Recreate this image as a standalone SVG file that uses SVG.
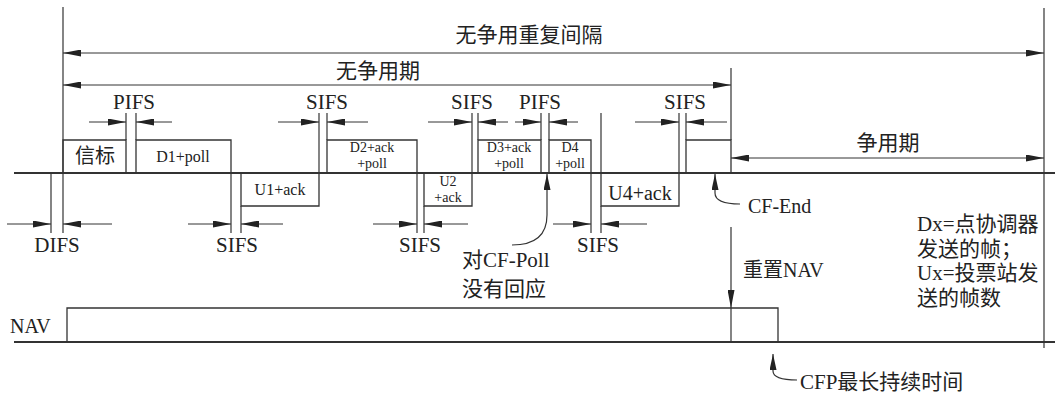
<svg xmlns="http://www.w3.org/2000/svg" width="1055" height="397" viewBox="0 0 1055 397">
<defs>
<style>
.ln{stroke:#333;stroke-width:1.2;fill:none}
.base{stroke:#333;stroke-width:2;fill:none}
.box{stroke:#333;stroke-width:1.3;fill:none}
.dim{stroke:#333;stroke-width:1;fill:none}
.t{font-family:"Liberation Serif","Noto Sans CJK SC",serif;fill:#222}
.c{text-anchor:middle}
.s14{font-size:14px}
.s16{font-size:16px}
.s20{font-size:20px}
.s21{font-size:21px}
</style>
<marker id="ah" viewBox="0 0 18 7" refX="18" refY="3.5" markerWidth="18" markerHeight="7" markerUnits="userSpaceOnUse" orient="auto-start-reverse"><path d="M0,0 L18,3.5 L0,7 z" fill="#222"/></marker>
<marker id="ah2" viewBox="0 0 16 7" refX="16" refY="3.5" markerWidth="16" markerHeight="7" markerUnits="userSpaceOnUse" orient="auto"><path d="M0,0 L16,3.5 L0,7 z" fill="#222"/></marker>
</defs>
<rect width="1055" height="397" fill="#fff"/>

<g id="timelines">
<line class="base" x1="14" y1="173" x2="1055" y2="173"/>
<line class="base" x1="14" y1="342" x2="1055" y2="342"/>
<path class="box" d="M67,342 V308 H778 V342"/>
</g>

<g id="frames">
<g id="beacon"><path class="box" d="M63,173 V140 H126 V173"/><text class="t c s20" x="95" y="163">信标</text></g>
<g id="d1"><path class="box" d="M136,173 V140 H231 V173"/><text class="t c s16" x="183" y="162">D1+poll</text></g>
<g id="u1"><path class="box" d="M241,173 V206 H319 V173"/><text class="t c s16" x="280" y="195">U1+ack</text></g>
<g id="d2"><path class="box" d="M327,173 V140 H417 V173"/><text class="t c s14" x="372" y="152">D2+ack</text><text class="t c s14" x="372" y="168">+poll</text></g>
<g id="u2"><path class="box" d="M424,173 V206 H472 V173"/><text class="t c s14" x="448" y="186">U2</text><text class="t c s14" x="448" y="202">+ack</text></g>
<g id="d3"><path class="box" d="M478,173 V140 H541 V173"/><text class="t c s14" x="509" y="152">D3+ack</text><text class="t c s14" x="509" y="168">+poll</text></g>
<g id="d4"><path class="box" d="M549,173 V140 H591 V173"/><text class="t c s14" x="570" y="152">D4</text><text class="t c s14" x="570" y="168">+poll</text></g>
<g id="u4"><path class="box" d="M601,173 V206 H679 V173"/><text class="t c s20" x="640" y="200">U4+ack</text></g>
<g id="cfend"><path class="box" d="M686,173 V140 H731 V173"/></g>
</g>

<g id="connectors">
<line class="ln" x1="63" y1="7" x2="63" y2="233"/>
<line class="ln" x1="51" y1="173" x2="51" y2="233"/>
<line class="ln" x1="126" y1="113" x2="126" y2="140"/>
<line class="ln" x1="136" y1="113" x2="136" y2="140"/>
<line class="ln" x1="319" y1="113" x2="319" y2="173"/>
<line class="ln" x1="327" y1="113" x2="327" y2="140"/>
<line class="ln" x1="231" y1="173" x2="231" y2="233"/>
<line class="ln" x1="241" y1="206" x2="241" y2="233"/>
<line class="ln" x1="472" y1="113" x2="472" y2="173"/>
<line class="ln" x1="478" y1="113" x2="478" y2="140"/>
<line class="ln" x1="417" y1="173" x2="417" y2="233"/>
<line class="ln" x1="424" y1="206" x2="424" y2="233"/>
<line class="ln" x1="541" y1="113" x2="541" y2="140"/>
<line class="ln" x1="549" y1="113" x2="549" y2="140"/>
<line class="ln" x1="591" y1="173" x2="591" y2="233"/>
<line class="ln" x1="601" y1="113" x2="601" y2="173"/>
<line class="ln" x1="601" y1="206" x2="601" y2="233"/>
<line class="ln" x1="679" y1="113" x2="679" y2="173"/>
<line class="ln" x1="686" y1="113" x2="686" y2="140"/>
<line class="ln" x1="731" y1="68" x2="731" y2="140"/>
<line class="ln" x1="1044" y1="8" x2="1044" y2="348"/>

<line class="dim" x1="63" y1="53" x2="1044" y2="53" marker-start="url(#ah)" marker-end="url(#ah)"/>
<line class="dim" x1="63" y1="85" x2="731" y2="85" marker-start="url(#ah)" marker-end="url(#ah)"/>
<line class="dim" x1="731" y1="158" x2="1044" y2="158" marker-start="url(#ah)" marker-end="url(#ah)"/>

<line class="dim" x1="89" y1="122" x2="126" y2="122" marker-end="url(#ah)"/>
<line class="dim" x1="172" y1="122" x2="136" y2="122" marker-end="url(#ah)"/>
<line class="dim" x1="278" y1="122" x2="319" y2="122" marker-end="url(#ah)"/>
<line class="dim" x1="368" y1="122" x2="327" y2="122" marker-end="url(#ah)"/>
<line class="dim" x1="428" y1="122" x2="472" y2="122" marker-end="url(#ah)"/>
<line class="dim" x1="508" y1="122" x2="478" y2="122" marker-end="url(#ah)"/>
<line class="dim" x1="515" y1="122" x2="541" y2="122" marker-end="url(#ah)"/>
<line class="dim" x1="578" y1="122" x2="549" y2="122" marker-end="url(#ah)"/>
<line class="dim" x1="635" y1="122" x2="679" y2="122" marker-end="url(#ah)"/>
<line class="dim" x1="727" y1="122" x2="686" y2="122" marker-end="url(#ah)"/>

<line class="dim" x1="7" y1="224" x2="51" y2="224" marker-end="url(#ah)"/>
<line class="dim" x1="112" y1="224" x2="63" y2="224" marker-end="url(#ah)"/>
<line class="dim" x1="188" y1="224" x2="231" y2="224" marker-end="url(#ah)"/>
<line class="dim" x1="283" y1="224" x2="241" y2="224" marker-end="url(#ah)"/>
<line class="dim" x1="373" y1="224" x2="417" y2="224" marker-end="url(#ah)"/>
<line class="dim" x1="468" y1="224" x2="424" y2="224" marker-end="url(#ah)"/>
<line class="dim" x1="553" y1="224" x2="591" y2="224" marker-end="url(#ah)"/>
<line class="dim" x1="647" y1="224" x2="601" y2="224" marker-end="url(#ah)"/>

<path class="ln" d="M512,245 C532,245 547,238 547,215 V174" marker-end="url(#ah2)"/>
<path class="ln" d="M740,204 C726,204 715,202 715,193 V174" marker-end="url(#ah2)"/>
<path class="ln" d="M797,380 C783,380 773,378 773,371 V354" marker-end="url(#ah2)"/>
<line class="ln" x1="731" y1="227" x2="731" y2="308" marker-end="url(#ah)"/>
<line class="ln" x1="731" y1="308" x2="731" y2="342"/>
</g>

<g id="labels">
<text class="t c s21" x="529" y="42">无争用重复间隔</text>
<text class="t c s21" x="378" y="78">无争用期</text>
<text class="t c s21" x="888" y="150">争用期</text>
<text class="t c s21" x="134" y="109">PIFS</text>
<text class="t c s21" x="327" y="109">SIFS</text>
<text class="t c s21" x="472" y="109">SIFS</text>
<text class="t c s21" x="540" y="109">PIFS</text>
<text class="t c s21" x="685" y="109">SIFS</text>
<text class="t c s21" x="57" y="252">DIFS</text>
<text class="t c s21" x="237" y="252">SIFS</text>
<text class="t c s21" x="420" y="252">SIFS</text>
<text class="t c s21" x="598" y="252">SIFS</text>
<text class="t s21" x="462" y="267">对CF-Poll</text>
<text class="t s21" x="462" y="296">没有回应</text>
<text class="t s20" x="748" y="213">CF-End</text>
<text class="t s20" x="743" y="277">重置NAV</text>
<text class="t s21" x="917" y="231">Dx=点协调器</text>
<text class="t s21" x="917" y="256">发送的帧；</text>
<text class="t s21" x="917" y="280">Ux=投票站发</text>
<text class="t s21" x="917" y="305">送的帧数</text>
<text class="t s20" x="10" y="333">NAV</text>
<text class="t s21" x="800" y="389">CFP最长持续时间</text>
</g>
</svg>
